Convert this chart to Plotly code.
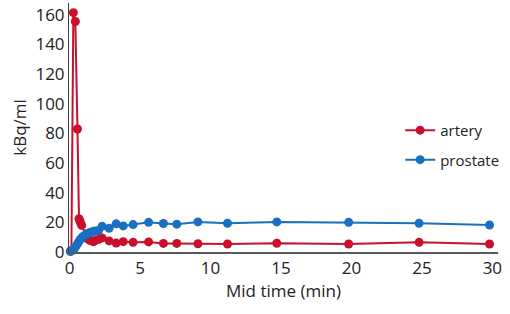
import plotly.graph_objects as go

artery_t = [0.05, 0.12, 0.26, 0.40, 0.55, 0.66, 0.72, 0.78, 0.85, 1.25, 1.40, 1.55, 1.70, 1.85, 2.05, 2.30, 2.80, 3.30, 3.80, 4.50, 5.60, 6.65, 7.60, 9.10, 11.20, 14.70, 19.80, 24.80, 29.80]
artery_v = [0.5, 1.0, 161.5, 155.5, 83.0, 22.5, 21.0, 19.5, 18.0, 9.0, 8.0, 7.5, 7.0, 8.0, 8.5, 9.5, 7.5, 6.0, 7.0, 6.5, 6.8, 5.8, 5.8, 5.6, 5.4, 5.9, 5.4, 6.5, 5.4]

prostate_t = [0.05, 0.15, 0.25, 0.35, 0.45, 0.55, 0.65, 0.75, 0.85, 0.95, 1.10, 1.25, 1.40, 1.55, 1.70, 1.85, 2.05, 2.30, 2.80, 3.30, 3.80, 4.50, 5.60, 6.65, 7.60, 9.10, 11.20, 14.70, 19.80, 24.80, 29.80]
prostate_v = [0.5, 0.8, 1.5, 2.5, 4.0, 5.5, 7.0, 8.5, 9.5, 10.5, 11.5, 12.5, 13.0, 13.5, 14.0, 14.2, 14.5, 17.3, 16.0, 19.0, 17.6, 18.5, 20.0, 19.2, 18.8, 20.3, 19.4, 20.3, 20.0, 19.4, 18.2]

RED = "#C8102E"
BLUE = "#1A6FC0"
FONT = "Open Sans"

fig = go.Figure()
fig.add_trace(go.Scatter(x=artery_t, y=artery_v, mode="lines+markers", name="artery",
                         line=dict(color=RED, width=2), marker=dict(color=RED, size=9),
                         legendgroup="a", cliponaxis=False))
fig.add_trace(go.Scatter(x=prostate_t, y=prostate_v, mode="lines+markers", name="prostate",
                         line=dict(color=BLUE, width=2), marker=dict(color=BLUE, size=9),
                         legendgroup="b", cliponaxis=False))

fig.update_layout(
    width=510, height=314,
    margin=dict(l=69, r=12, t=3, b=62, autoexpand=False),
    paper_bgcolor="white", plot_bgcolor="white",
    font=dict(family=FONT, size=17, color="#222"),
    legend=dict(x=0.772, y=0.43, xanchor="left", yanchor="middle",
                font=dict(size=15), tracegroupgap=7, bgcolor="rgba(0,0,0,0)"),
    xaxis=dict(range=[-0.05, 30.4], tickvals=[0, 5, 10, 15, 20, 25, 30],
               showgrid=False, zeroline=False, showline=True, linecolor="#595959", linewidth=2,
               ticks="", automargin=False, ticklabeloverflow="allow",
               title=dict(text="Mid time (min)", standoff=4, font=dict(size=17))),
    yaxis=dict(range=[0, 168], tickvals=[0, 20, 40, 60, 80, 100, 120, 140, 160],
               showgrid=False, zeroline=False, showline=True, linecolor="#404040", linewidth=1,
               ticks="", automargin=False, ticklabeloverflow="allow",
               title=dict(text="kBq/ml", standoff=4, font=dict(size=17))),
)

# remove the browser's default 8px body margin so the figure fills the window
fig.write_html("out.html", config={"displayModeBar": False},
               post_script="document.body.style.margin='0';")
